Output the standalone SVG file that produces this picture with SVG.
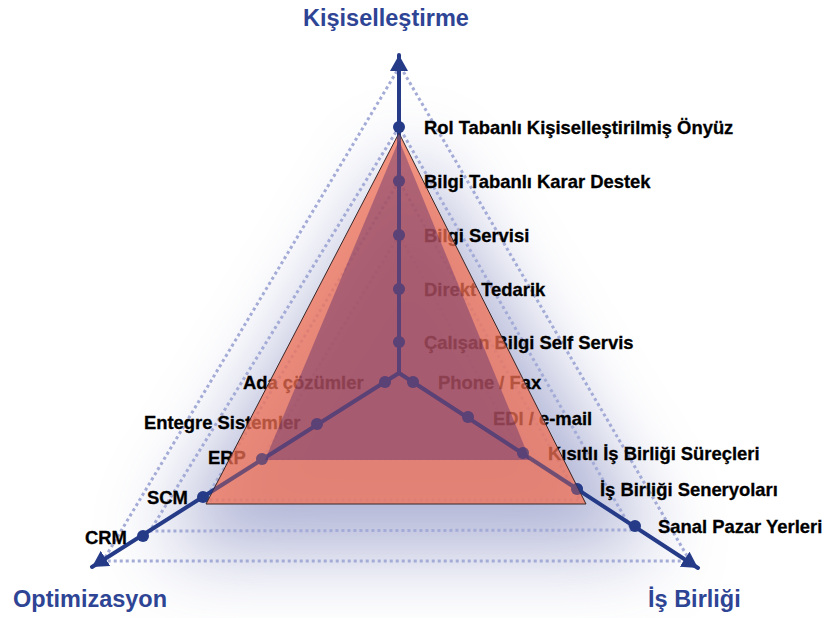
<svg xmlns="http://www.w3.org/2000/svg" width="829" height="618" viewBox="0 0 829 618">
<defs>
<filter id="glow" x="-50%" y="-50%" width="200%" height="200%"><feGaussianBlur stdDeviation="40"/></filter>
<marker id="ah" viewBox="0 0 16 18" refX="16" refY="9" markerWidth="16" markerHeight="18" markerUnits="userSpaceOnUse" orient="auto"><path d="M0,0 L16,9 L0,18 Z" fill="#253b88"/></marker>
<style>
.bg{fill:#fff}
.dot{stroke:#a3abd6;stroke-width:3;stroke-dasharray:3 3;fill:none}
.axis{stroke:#253b88;stroke-width:4;fill:none;stroke-linecap:round}
.nd{fill:#253b88}
.lbl{font-family:"Liberation Sans",Arial,sans-serif;font-weight:bold;font-size:18.4px;fill:#000;stroke:#000;stroke-width:0.3}
.ttl{font-family:"Liberation Sans",Arial,sans-serif;font-weight:bold;font-size:23.5px;fill:#2e4494}
</style>
</defs>
<rect class="bg" x="0" y="0" width="829" height="618"/>
<polygon points="410,150 160,550 660,550" fill="#8a91c2" opacity="0.7" filter="url(#glow)"/>

<g id="guides">
<polyline class="dot" points="400,66 103,561 690,561 400,66"/>
<polyline class="dot" points="399,127 150,531 632,530 399,127"/>
<polyline class="dot" points="399,181 205,500 580,500 399,181"/>
<polyline class="dot" points="399,235 262,459 525,459 399,235"/>
</g>

<g id="connectors">
<line class="axis" x1="399" y1="373" x2="399" y2="55" marker-end="url(#ah)"/>
<line class="axis" x1="399" y1="373" x2="92" y2="567" marker-end="url(#ah)"/>
<line class="axis" x1="399" y1="373" x2="698" y2="568" marker-end="url(#ah)"/>
</g>

<g id="node-rol"><circle class="nd" cx="399" cy="127" r="6"/><text class="lbl" x="424" y="134">Rol Tabanlı Kişiselleştirilmiş Önyüz</text></g>
<g id="node-bilgi-tabanli"><circle class="nd" cx="399" cy="181" r="6"/><text class="lbl" x="424" y="188">Bilgi Tabanlı Karar Destek</text></g>
<g id="node-bilgi-servisi"><circle class="nd" cx="399" cy="235" r="6"/><text class="lbl" x="424" y="242">Bilgi Servisi</text></g>
<g id="node-direkt"><circle class="nd" cx="399" cy="289" r="6"/><text class="lbl" x="424" y="296">Direkt Tedarik</text></g>
<g id="node-calisan"><circle class="nd" cx="399" cy="342" r="6"/><text class="lbl" x="424" y="349">Çalışan Bilgi Self Servis</text></g>
<g id="node-ada"><circle class="nd" cx="385" cy="382" r="6"/><text class="lbl" x="243" y="389">Ada çözümler</text></g>
<g id="node-entegre"><circle class="nd" cx="317" cy="424" r="6"/><text class="lbl" x="144" y="429">Entegre Sistemler</text></g>
<g id="node-erp"><circle class="nd" cx="262" cy="459" r="6"/><text class="lbl" x="208" y="464">ERP</text></g>
<g id="node-scm"><circle class="nd" cx="203" cy="497" r="6"/><text class="lbl" x="147" y="504">SCM</text></g>
<g id="node-crm"><circle class="nd" cx="143" cy="536" r="6"/><text class="lbl" x="85" y="544">CRM</text></g>
<g id="node-phone"><circle class="nd" cx="413" cy="382" r="6"/><text class="lbl" x="438" y="389">Phone / Fax</text></g>
<g id="node-edi"><circle class="nd" cx="468" cy="417" r="6"/><text class="lbl" x="493" y="425">EDI / e-mail</text></g>
<g id="node-kisitli"><circle class="nd" cx="523" cy="453" r="6"/><text class="lbl" x="548" y="460">Kısıtlı İş Birliği Süreçleri</text></g>
<g id="node-seneryo"><circle class="nd" cx="577" cy="489" r="6"/><text class="lbl" x="600" y="496">İş Birliği Seneryoları</text></g>
<g id="node-sanal"><circle class="nd" cx="635" cy="526" r="6"/><text class="lbl" x="658" y="533">Sanal Pazar Yerleri</text></g>

<g id="areas">
<polygon points="399,133 206,504 586,504" fill="rgb(243,112,84)" fill-opacity="0.74" stroke="#3a2626" stroke-width="1"/>
<polygon points="399,140 265,460 530,460" fill="rgb(80,35,105)" fill-opacity="0.4"/>
</g>
<g id="axis-tint" opacity="0.5">
<line class="axis" x1="399" y1="373" x2="399" y2="134" stroke="#3a1650"/>
<line class="axis" x1="399" y1="373" x2="206" y2="495"/>
<line class="axis" x1="399" y1="373" x2="582" y2="492"/>
<circle class="nd" cx="399" cy="181" r="6"/><circle class="nd" cx="399" cy="235" r="6"/><circle class="nd" cx="399" cy="289" r="6"/><circle class="nd" cx="399" cy="342" r="6"/>
<circle class="nd" cx="385" cy="382" r="6"/><circle class="nd" cx="317" cy="424" r="6"/><circle class="nd" cx="262" cy="459" r="6"/>
<circle class="nd" cx="413" cy="382" r="6"/><circle class="nd" cx="468" cy="417" r="6"/><circle class="nd" cx="523" cy="453" r="6"/><circle class="nd" cx="577" cy="489" r="6"/>
</g>

<g id="title-kisisel"><text class="ttl" x="303" y="26">Kişiselleştirme</text></g>
<g id="title-optim"><text class="ttl" x="13" y="607">Optimizasyon</text></g>
<g id="title-isbirligi"><text class="ttl" x="648" y="607">İş Birliği</text></g>
</svg>
